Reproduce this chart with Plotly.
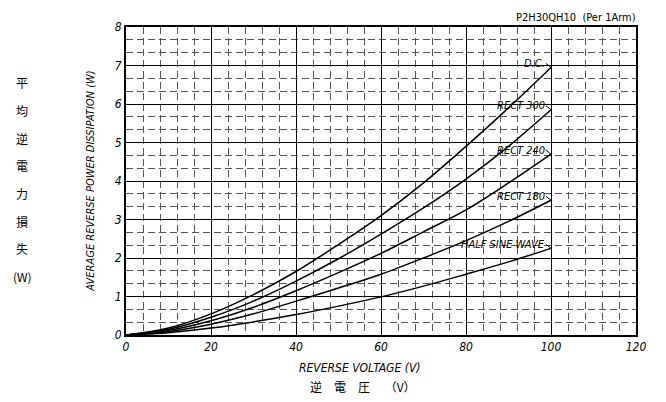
import plotly.graph_objects as go

voltage = [0, 10, 20, 30, 40, 50, 60, 70, 80, 90, 100]
dc = [0, 0.18, 0.55, 1.05, 1.65, 2.35, 3.1, 3.95, 4.9, 5.9, 6.95]
rect300 = [0, 0.15, 0.46, 0.88, 1.40, 1.98, 2.62, 3.3, 4.05, 4.9, 5.85]
rect240 = [0, 0.12, 0.37, 0.72, 1.15, 1.62, 2.12, 2.68, 3.25, 3.95, 4.7]
rect180 = [0, 0.09, 0.28, 0.55, 0.88, 1.22, 1.58, 2.0, 2.45, 2.95, 3.5]
half_sine = [0, 0.06, 0.18, 0.34, 0.53, 0.75, 0.99, 1.27, 1.58, 1.9, 2.25]

series = [("D.C.", dc), ("RECT 300", rect300), ("RECT 240", rect240),
          ("RECT 180", rect180), ("HALF SINE WAVE", half_sine)]

x_ticks = [0, 20, 40, 60, 80, 100, 120]
y_ticks = [0, 1, 2, 3, 4, 5, 6, 7, 8]
jp_y_title = ["平", "均", "逆", "電", "力", "損", "失", "(W)"]

FONT = "DejaVu Sans Condensed"

# page has an 8px body margin; figure sized to fit the 666x402 window
OFF = 8
W, H = 650, 386
L, R, T, B = 118, 20, 12, 59
pw, ph = W - L - R, H - T - B

fig = go.Figure()
for name, vals in series:
    fig.add_trace(go.Scatter(x=voltage, y=vals, mode="lines", name=name,
                             line=dict(color="black", width=1.5, shape="spline"),
                             showlegend=False, hoverinfo="skip"))
    fig.add_annotation(x=voltage[-1], y=vals[-1], xref="x", yref="y",
                       text=name, showarrow=True, arrowhead=0, arrowwidth=1,
                       arrowcolor="black", ax=-5, ay=-4, xanchor="right",
                       yanchor="middle", borderpad=0,
                       font=dict(family=FONT, size=11, color="black", style="italic"))

axis_common = dict(showline=True, linecolor="black", linewidth=2, mirror=True,
                   showgrid=True, gridcolor="black", gridwidth=1.3,
                   ticks="", zeroline=False,
                   tickfont=dict(family=FONT, size=12, color="black", style="italic"))

fig.update_xaxes(range=[0, 120], tickvals=x_ticks, ticktext=[str(v) for v in x_ticks],
                 minor=dict(dtick=4, showgrid=True, gridcolor="#555555", gridwidth=1,
                            griddash="7px,4px"),
                 **axis_common)
fig.update_yaxes(range=[0, 8], tickvals=y_ticks, ticktext=[str(v) for v in y_ticks],
                 minor=dict(dtick=1/3, showgrid=True, gridcolor="#555555", gridwidth=1,
                            griddash="7px,4px"),
                 **axis_common)


def px_to_paper(px, py):
    return (px - OFF - L) / pw, 1 - (py - OFF - T) / ph


ax_, ay_ = px_to_paper(640, 10)
fig.add_annotation(x=ax_, y=ay_, xref="paper", yref="paper",
                   text="P2H30QH10  (Per 1Arm)", showarrow=False,
                   xanchor="right", yanchor="middle",
                   font=dict(family=FONT, size=11, color="black"))
ax_, ay_ = px_to_paper(90, 178)
fig.add_annotation(x=ax_, y=ay_, xref="paper", yref="paper",
                   text="AVERAGE REVERSE POWER DISSIPATION (W)", showarrow=False,
                   textangle=-90, xanchor="center", yanchor="middle",
                   font=dict(family=FONT, size=11, color="black", style="italic"))
ax_, ay_ = px_to_paper(361, 369)
fig.add_annotation(x=ax_, y=ay_, xref="paper", yref="paper",
                   text="REVERSE VOLTAGE (V)", showarrow=False,
                   xanchor="center", yanchor="middle",
                   font=dict(family=FONT, size=12, color="black", style="italic"))
ax_, ay_ = px_to_paper(364, 388)
fig.add_annotation(x=ax_, y=ay_, xref="paper", yref="paper",
                   text="逆　電　圧　 （V）", showarrow=False,
                   xanchor="center", yanchor="middle",
                   font=dict(family="Noto Sans CJK JP", size=12, color="black"))
for i, ch in enumerate(jp_y_title):
    ax_, ay_ = px_to_paper(22, 77 + i * 28.3)
    fig.add_annotation(x=ax_, y=ay_, xref="paper", yref="paper",
                       text=ch, showarrow=False, xanchor="center", yanchor="middle",
                       font=dict(family="Noto Sans CJK JP", size=12, color="black"))

fig.update_layout(width=W, height=H, margin=dict(l=L, r=R, t=T, b=B),
                  plot_bgcolor="white", paper_bgcolor="white")
fig.write_html("out.html")
